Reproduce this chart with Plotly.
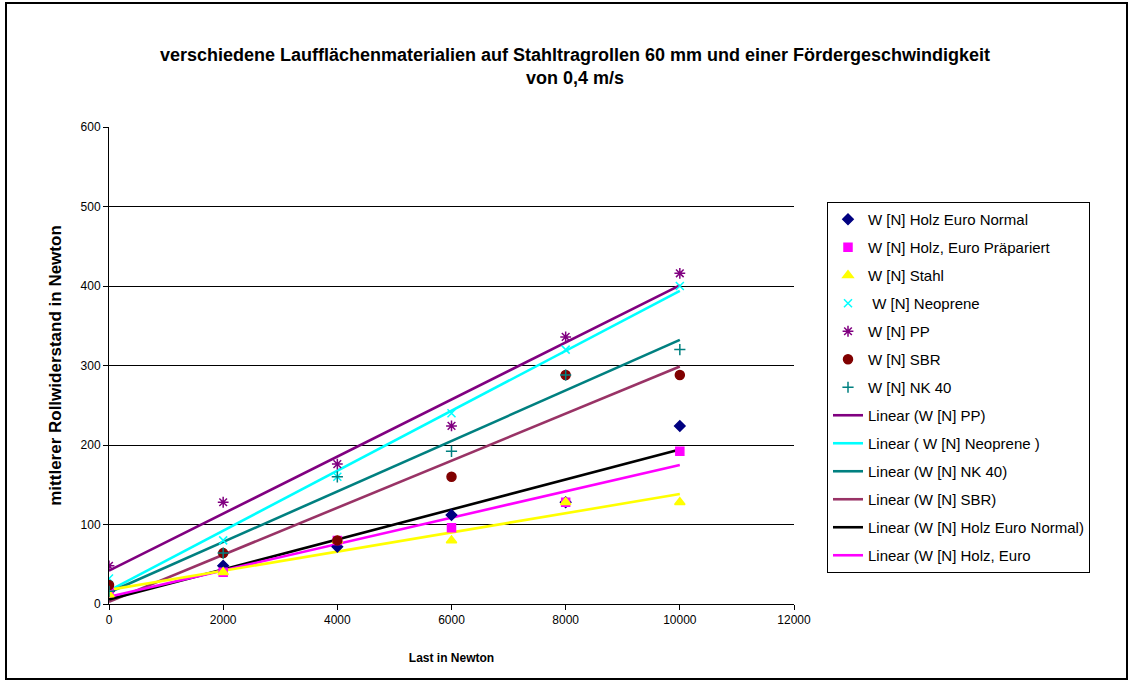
import numpy as np
import plotly.graph_objects as go

# Last in Newton
last = [0, 2000, 4000, 6000, 8000, 10000]

# mittlerer Rollwiderstand W [N] je Laufflächenmaterial
holz_normal = [16, 48, 72, 112, 128, 224]
holz_praepariert = [16, 40, 80, 96, 128, 192]
stahl = [12, 40, 80, 80, 128, 128]
neoprene = [32, 80, 160, 240, 320, 400]
pp = [48, 128, 176, 224, 336, 416]
sbr = [24, 64, 80, 160, 288, 288]
nk40 = [16, 64, 160, 192, 288, 320]

x_ticks = [0, 2000, 4000, 6000, 8000, 10000, 12000]
y_ticks = [0, 100, 200, 300, 400, 500, 600]

FONT = "Liberation Sans, Arial, sans-serif"

# name, values, marker symbol, marker colour, marker size
marker_series = [
    ("W [N] Holz Euro Normal", holz_normal, "diamond", "#000080", 8),
    ("W [N] Holz, Euro Präpariert", holz_praepariert, "square", "#FF00FF", 8),
    ("W [N] Stahl", stahl, "triangle-up", "#FFFF00", 9),
    (" W [N] Neoprene", neoprene, "x-thin-open", "#00FFFF", 8),
    ("W [N] PP", pp, "asterisk-open", "#800080", 9),
    ("W [N] SBR", sbr, "circle", "#800000", 9),
    ("W [N] NK 40", nk40, "cross-thin-open", "#008080", 8),
]

# linear trend lines: legend text, values, colour, shown in legend
trend_series = [
    ("Linear (W [N] PP)", pp, "#800080", True),
    ("Linear ( W [N] Neoprene )", neoprene, "#00FFFF", True),
    ("Linear (W [N] NK 40)", nk40, "#008080", True),
    ("Linear (W [N] SBR)", sbr, "#993366", True),
    ("Linear (W [N] Holz Euro Normal)", holz_normal, "#000000", True),
    ("Linear (W [N] Holz, Euro", holz_praepariert, "#FF00FF", True),
    ("Linear (W [N] Stahl)", stahl, "#FFFF00", False),
]

fig = go.Figure()

xs = np.array([min(last), max(last)], dtype=float)
rank = 100
for i, (name, vals, color, show) in enumerate(trend_series):
    k, d = np.polyfit(last, vals, 1)
    fig.add_trace(go.Scatter(
        x=xs, y=k * xs + d, mode="lines", name=name,
        line=dict(color=color, width=2.6),
        showlegend=show, legendrank=rank + 10 * (i + 1),
        legendgroup=f"t{i}", hoverinfo="skip",
    ))

for i, (name, vals, sym, color, size) in enumerate(marker_series):
    fig.add_trace(go.Scatter(
        x=last, y=vals, mode="markers", name=name,
        marker=dict(symbol=sym, color=color, size=size,
                    line=dict(color=color, width=1.5)),
        legendrank=10 * (i + 1), legendgroup=f"m{i}",
    ))

fig.update_layout(
    width=1133, height=684,
    margin=dict(l=109, r=339, t=127, b=80),
    paper_bgcolor="white", plot_bgcolor="white",
    font=dict(family=FONT, size=12, color="#000000"),
    title=dict(
        text="<b>verschiedene Laufflächenmaterialien auf Stahltragrollen 60 mm und einer Fördergeschwindigkeit<br>von 0,4 m/s</b>",
        x=575 / 1133, xanchor="center", y=1 - 61 / 684, yanchor="top",
        font=dict(family=FONT, size=18, color="#000000"),
    ),
    xaxis=dict(
        range=[0, 12000], tickvals=x_ticks, ticktext=[str(v) for v in x_ticks],
        showgrid=False, zeroline=False,
        showline=True, linecolor="#000000", linewidth=1,
        ticks="outside", ticklen=5, tickcolor="#000000",
        tickfont=dict(family=FONT, size=12, color="#000000"),
        title=dict(text="<b>Last in Newton</b>", standoff=27,
                   font=dict(family=FONT, size=12, color="#000000")),
    ),
    yaxis=dict(
        range=[0, 600], tickvals=y_ticks, ticktext=[str(v) for v in y_ticks],
        showgrid=True, gridcolor="#000000", gridwidth=1, zeroline=False,
        showline=True, linecolor="#000000", linewidth=1,
        ticks="outside", ticklen=5, tickcolor="#000000",
        tickfont=dict(family=FONT, size=12, color="#000000"),
        title=dict(text="<b>mittlerer Rollwiderstand in Newton</b>", standoff=14,
                   font=dict(family=FONT, size=17, color="#000000")),
    ),
    legend=dict(
        x=(827 - 109) / 685, xanchor="left",
        y=(604 - 202) / 477, yanchor="top",
        bordercolor="#000000", borderwidth=1, bgcolor="white",
        font=dict(family=FONT, size=15, color="#000000"),
        traceorder="grouped", tracegroupgap=5.5,
        itemwidth=30,
    ),
    shapes=[dict(
        type="rect", xref="paper", yref="paper",
        x0=(6 - 109) / 685, x1=(1127 - 109) / 685,
        y0=(604 - 679) / 477, y1=(604 - 3) / 477,
        line=dict(color="#000000", width=2), fillcolor="rgba(0,0,0,0)",
        layer="below",
    )],
)

fig.write_html("out.html")
